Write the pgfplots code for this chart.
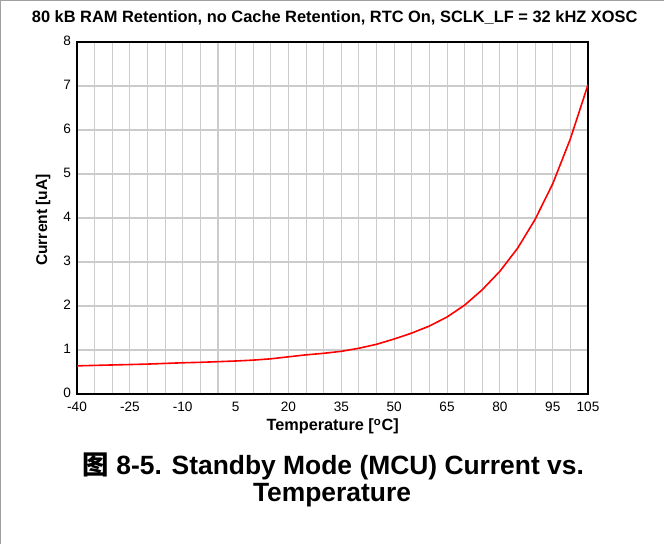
\documentclass[border=0pt]{standalone}
\usepackage{pgfplots}
\pgfplotsset{compat=1.18}
\usepackage{fontspec}
\setmainfont{Liberation Sans}
\newfontfamily\cjk{Noto Sans CJK SC}
\definecolor{gridgray}{HTML}{CCCCCC}
\definecolor{framegray}{HTML}{A0A0A0}
\begin{document}
\begin{tikzpicture}
\useasboundingbox (0,0) rectangle (498pt,408pt);
\draw[framegray, line width=1.2pt] (0,0) -- (0,408pt) -- (498pt,408pt);
\begin{axis}[
  at={(57.75pt,112.5pt)}, anchor=south west,
  width=383.25pt, height=264pt, scale only axis,
  xmin=-40, xmax=105, ymin=0, ymax=8,
  xtick={-40,-25,-10,5,20,35,50,65,80,95,105},
  minor xtick={-35,-30,-20,-15,-5,0,10,15,25,30,40,45,55,60,70,75,85,90,100},
  ytick={0,1,2,3,4,5,6,7,8},
  grid=both,
  major grid style={gridgray, line width=0.8pt},
  minor grid style={gridgray, line width=0.8pt},
  major tick length=0pt, minor tick length=0pt,
  axis line style={black, line width=1.3pt},
  tick label style={font=\fontsize{10.2}{12}\selectfont},
  /pgf/number format/assume math mode=true,
  xticklabel style={yshift=-2.2pt},
  yticklabel style={xshift=-1pt, yshift=1pt},
]
\addplot[red, line width=1.2pt] coordinates {
(-40,0.64) (-35,0.65) (-30,0.66) (-25,0.67) (-20,0.68) (-15,0.695)
(-10,0.71) (-5,0.72) (0,0.735) (5,0.75) (10,0.77) (15,0.80)
(20,0.845) (25,0.89) (30,0.925) (35,0.97) (40,1.04) (45,1.13)
(50,1.25) (55,1.385) (60,1.545) (65,1.75) (70,2.02) (75,2.37)
(80,2.79) (85,3.31) (90,3.97) (95,4.78) (100,5.80) (105,7.03)
};
\end{axis}
\node[font=\bfseries\fontsize{12.3}{14}\selectfont] at (251pt,394.5pt) {80 kB RAM Retention, no Cache Retention, RTC On, SCLK\_LF = 32 kHZ XOSC};
\node[font=\bfseries\fontsize{11.7}{13}\selectfont, rotate=90] at (32.25pt,243pt) {Current [uA]};
\node[font=\bfseries\fontsize{12.2}{14}\selectfont] at (249.5pt,88pt) {Temperature [\textsuperscript{o}C]};
\node[font=\bfseries\fontsize{19.8}{23}\selectfont] at (250pt,58.5pt) {{\cjk 图} 8-5. Standby Mode (MCU) Current vs.};
\node[font=\bfseries\fontsize{19.8}{23}\selectfont] at (249pt,36.5pt) {Temperature};
\end{tikzpicture}
\end{document}
